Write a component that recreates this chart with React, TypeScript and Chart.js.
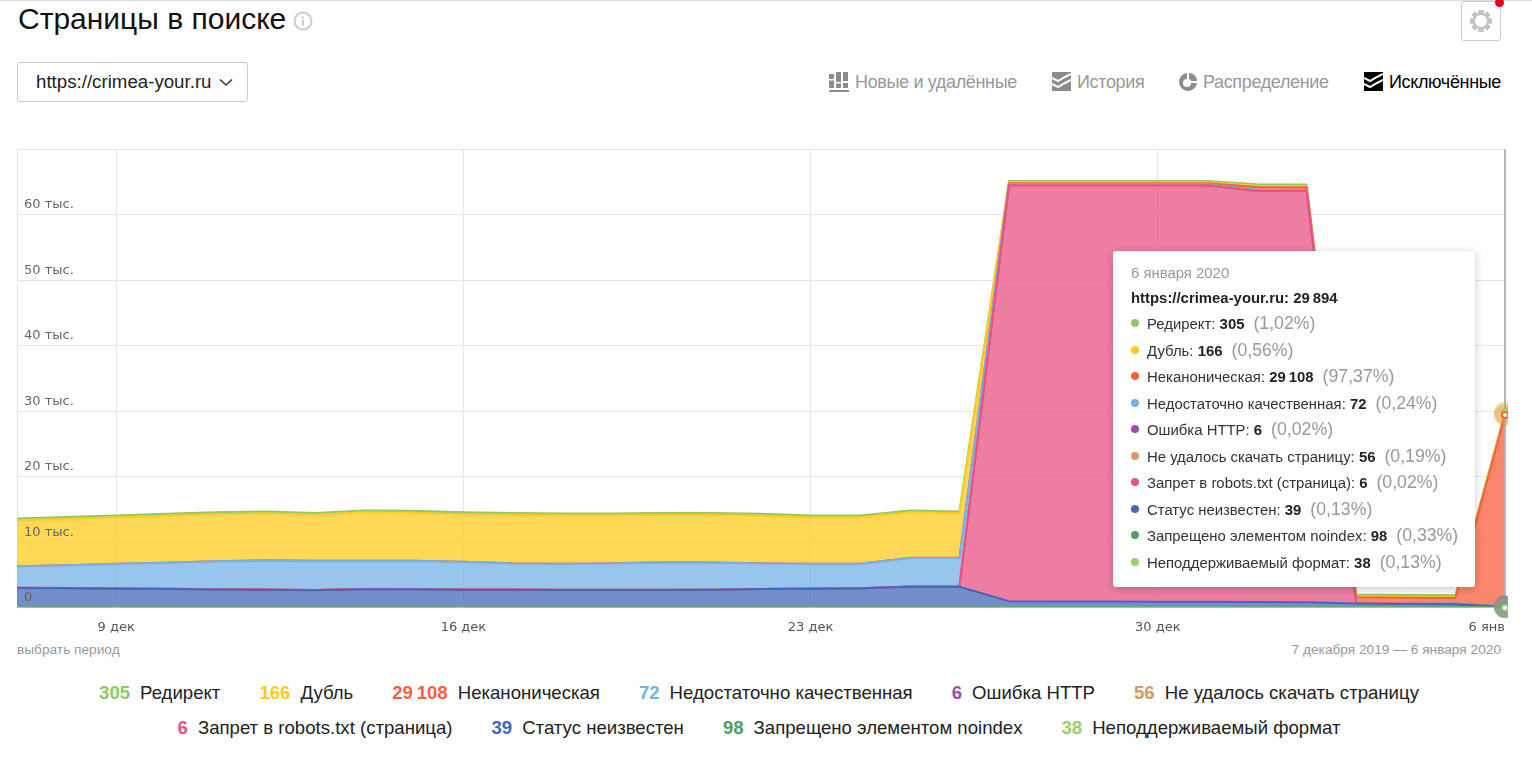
import React, { useEffect, useRef } from "react";
import { Chart, registerables } from "chart.js";

Chart.register(...registerables);

const days = [
  "7 дек","8 дек","9 дек","10 дек","11 дек","12 дек","13 дек","14 дек","15 дек","16 дек","17 дек",
  "18 дек","19 дек","20 дек","21 дек","22 дек","23 дек","24 дек","25 дек","26 дек","27 дек","28 дек",
  "29 дек","30 дек","31 дек","1 янв","2 янв","3 янв","4 янв","5 янв","6 янв",
];
const shownTicks = ["9 дек", "16 дек", "23 дек", "30 дек", "6 янв"];
const yTicks = [0, 10000, 20000, 30000, 40000, 50000, 60000];
const yTickSuffix = " тыс.";

const unsupported = [40,40,40,40,40,40,40,40,40,40,40,40,40,40,40,40,40,40,40,40,40,40,40,40,40,40,40,40,40,40,38];
const noindex = [60,60,60,60,60,60,60,60,60,60,60,60,60,60,60,60,60,60,60,60,60,60,60,60,60,60,60,60,60,60,98];
const statusUnknown = [2950,2920,2860,2800,2740,2680,2620,2770,2750,2700,2680,2660,2650,2640,2670,2780,2840,2900,3150,3130,920,900,880,860,840,800,780,600,520,480,39];
const robots = [25,25,25,25,25,25,25,25,25,25,25,25,25,25,25,25,25,25,25,25,63410,63430,63450,63470,63490,62685,62700,30,25,20,6];
const downloadFailed = [5,5,5,5,5,5,5,5,5,5,5,5,5,5,5,5,5,5,5,5,60,60,60,60,60,60,60,40,40,40,56];
const httpError = [0,0,0,0,0,0,0,0,0,0,0,0,0,0,0,0,0,0,0,0,6,6,6,6,6,6,6,6,6,6,6];
const lowQuality = [3280,3460,3750,3970,4260,4440,4450,4300,4320,4220,3990,3950,4020,4180,4120,3890,3770,3710,4350,4370,130,130,130,130,130,120,120,70,70,70,72];
const nonCanonical = [15,15,15,15,15,15,15,15,15,15,15,15,15,15,15,15,15,15,15,15,140,140,140,140,140,420,410,780,790,800,29108];
const duplicate = [7010,7090,7080,7160,7160,7190,7010,7390,7320,7240,7410,7390,7330,7260,7290,7260,7080,7080,6960,6810,170,170,170,170,170,200,200,180,180,180,166];
const redirect = [280,280,280,280,280,280,280,280,280,280,280,280,280,280,280,280,280,280,280,280,180,180,180,190,200,220,220,250,250,250,305];

const names = ["Редирект","Дубль","Неканоническая","Недостаточно качественная","Ошибка HTTP","Не удалось скачать страницу","Запрет в robots.txt (страница)","Статус неизвестен","Запрещено элементом noindex","Неподдерживаемый формат"];
const colors = ["#8fc866","#ffcb1f","#f9603e","#74b2e6","#a04bb0","#d99a68","#e85285","#4667b9","#4f9f68","#98d06a"];
const shares = ["1,02","0,56","97,37","0,24","0,02","0,19","0,02","0,13","0,33","0,13"];
const series = [redirect, duplicate, nonCanonical, lowQuality, httpError, downloadFailed, robots, statusUnknown, noindex, unsupported];
const siteName = "https://crimea-your.ru";
const tooltipDate = "6 января 2020";
const periodText = "7 декабря 2019 — 6 января 2020";
const legendRows = [[0, 1, 2, 3, 4, 5], [6, 7, 8, 9]];

const fmt = (n: number) => String(n).replace(/\B(?=(\d{3})+$)/g, "\u202f");
const lastValue = (i: number) => series[i][series[i].length - 1];
const total = series.reduce((s, a) => s + a[a.length - 1], 0);

const alpha = (hex: string, a: number) => {
  const n = parseInt(hex.slice(1), 16);
  return `rgba(${n >> 16},${(n >> 8) & 255},${n & 255},${a})`;
};

const sans = '"Liberation Sans", Arial, sans-serif';
const axisFont = '"DejaVu Sans", sans-serif';

const framePlugin = {
  id: "frame",
  beforeDatasetsDraw(chart: any) {
    const { ctx, chartArea: a } = chart;
    ctx.save();
    ctx.strokeStyle = "#e6e6e6";
    ctx.lineWidth = 1;
    ctx.beginPath();
    ctx.moveTo(a.left + 0.5, a.bottom);
    ctx.lineTo(a.left + 0.5, a.top + 0.5);
    ctx.lineTo(a.right, a.top + 0.5);
    ctx.stroke();
    ctx.restore();
  },
  afterDatasetsDraw(chart: any) {
    const { ctx, chartArea: a } = chart;
    const n = chart.data.labels.length - 1;
    ctx.save();
    const x0 = chart.getDatasetMeta(0).data[n].x;
    ctx.strokeStyle = "#b4b4b4";
    ctx.lineWidth = 2;
    ctx.beginPath();
    ctx.moveTo(x0, a.top);
    ctx.lineTo(x0, a.bottom - 2);
    ctx.stroke();
    const sets = chart.data.datasets.map((d: any, i: number) => ({ d, p: chart.getDatasetMeta(i).data[n] })).reverse();
    sets.forEach(({ d, p }: any) => {
      ctx.beginPath();
      ctx.arc(p.x, p.y, 11, 0, Math.PI * 2);
      ctx.fillStyle = alpha(d.borderColor, 0.28);
      ctx.fill();
    });
    sets.forEach(({ d, p }: any) => {
      ctx.beginPath();
      ctx.arc(p.x, p.y, 3, 0, Math.PI * 2);
      ctx.fillStyle = "#fff";
      ctx.fill();
      ctx.lineWidth = 2;
      ctx.strokeStyle = d.borderColor;
      ctx.stroke();
    });
    ctx.restore();
  },
};

const abs = (left: number, top: number, extra: any = {}) => ({ position: "absolute" as const, left, top, whiteSpace: "nowrap" as const, ...extra });

function BarsIcon({ c }: { c: string }) {
  return (
    <svg width="20" height="20" viewBox="0 0 20 20">
      <rect x="0" y="2" width="5" height="14" fill={c} />
      <rect x="7" y="0" width="5" height="16" fill={c} />
      <rect x="14" y="0" width="5" height="9" fill={c} />
      <rect x="14" y="11" width="5" height="5" fill={c} />
      <rect x="0" y="7" width="5" height="1.5" fill="#fff" />
      <rect x="7" y="10" width="5" height="1.5" fill="#fff" />
      <rect x="0" y="18" width="20" height="2" fill={c} />
    </svg>
  );
}
function WaveIcon({ c }: { c: string }) {
  return (
    <svg width="19" height="19" viewBox="0 0 19 19">
      <rect width="19" height="19" fill={c} />
      <path d="M0 6 L6 9 L13 5 L19 2 M0 12 L6 15 L13 11 L19 8" stroke="#fff" strokeWidth="2" fill="none" />
    </svg>
  );
}
function PieIcon({ c }: { c: string }) {
  return (
    <svg width="18" height="18" viewBox="0 0 18 18">
      <path d="M8 0 A9 9 0 1 0 18 10 L12 10 A4 4 0 1 1 8 6 Z" fill={c} />
      <path d="M10 0 A8 8 0 0 1 18 8 L12 8 A3 3 0 0 0 10 6 Z" fill={c} />
    </svg>
  );
}
function GearIcon() {
  const teeth = [0, 45, 90, 135, 180, 225, 270, 315];
  return (
    <svg width="22" height="24" viewBox="0 0 22 24">
      <g transform="translate(0 1)">
        {teeth.map((t) => (
          <rect key={t} x="8.5" y="0" width="5" height="22" fill="#c4c4c4" transform={`rotate(${t} 11 11)`} />
        ))}
        <circle cx="11" cy="11" r="8.2" fill="#c4c4c4" />
        <circle cx="11" cy="11" r="6" fill="#fff" />
      </g>
    </svg>
  );
}

export default function App() {
  const ref = useRef<HTMLCanvasElement | null>(null);

  useEffect(() => {
    const order = [9, 8, 7, 6, 5, 4, 3, 2, 1, 0];
    const chart = new Chart(ref.current as HTMLCanvasElement, {
      type: "line",
      data: {
        labels: days,
        datasets: order.map((i, k) => ({
          label: names[i],
          data: series[i],
          borderColor: colors[i],
          backgroundColor: alpha(colors[i], 0.75),
          borderWidth: 2,
          pointRadius: 0,
          tension: 0,
          fill: k === 0 ? "origin" : "-1",
          clip: { left: 2, right: 2, top: 2, bottom: 0 },
        })),
      },
      options: {
        animation: false,
        responsive: false,
        devicePixelRatio: 1,
        events: [],
        layout: { padding: { left: 17, right: 3, top: 149, bottom: 0 } },
        plugins: { legend: { display: false }, tooltip: { enabled: false } },
        scales: {
          x: {
            type: "category",
            border: { display: false },
            afterFit: (s: any) => { s.height = 32; s.paddingLeft = 0; s.paddingRight = 0; },
            grid: {
              drawTicks: false,
              color: (c: any) => (shownTicks.includes(days[c.index]) && c.index < days.length - 1 ? "#e6e6e6" : "rgba(0,0,0,0)"),
            },
            ticks: {
              autoSkip: false,
              maxRotation: 0,
              align: "inner",
              padding: 12,
              color: "#555",
              font: { family: axisFont, size: 13 },
              callback: (_v: any, i: number) => (shownTicks.includes(days[i]) ? days[i] : ""),
            },
          },
          y: {
            stacked: true,
            min: 0,
            max: 70000,
            afterFit: (s: any) => { s.width = 0; },
            afterBuildTicks: (s: any) => { s.ticks = yTicks.map((value) => ({ value })); },
            border: { display: false },
            grid: { drawTicks: false, color: (c: any) => (c.tick && c.tick.value === 0 ? "rgba(0,0,0,0)" : "#e6e6e6") },
            ticks: {
              mirror: true,
              z: 1,
              padding: 7,
              labelOffset: -10,
              color: "#666",
              font: { family: axisFont, size: 13 },
              callback: (v: any) => (v === 0 ? "0" : `${Number(v) / 1000}${yTickSuffix}`),
            },
          },
        },
      },
      plugins: [framePlugin],
    } as any);
    return () => chart.destroy();
  }, []);

  const tabStyle = { fontFamily: sans, fontSize: 18, letterSpacing: -0.35, color: "#999" };

  return (
    <div style={{ position: "absolute", left: 0, top: 0, width: 1532, height: 770, overflow: "hidden", background: "#fff", fontFamily: sans }}>
      <div style={abs(0, 0, { width: 1532, height: 1, background: "#ddd" })} />
      <div style={abs(18, 1, { fontSize: 30, lineHeight: "36px", color: "#111" })}>Страницы в поиске</div>
      <svg style={abs(293, 11)} width="20" height="20" viewBox="0 0 20 20">
        <circle cx="10" cy="10" r="8.5" fill="none" stroke="#ccc" strokeWidth="2" />
        <rect x="9" y="9" width="2" height="6" fill="#ccc" />
        <rect x="9" y="5.5" width="2" height="2" fill="#ccc" />
      </svg>

      <div style={abs(17, 62, { width: 231, height: 40, boxSizing: "border-box", border: "1px solid #ccc", borderRadius: 3 })} />
      <div style={abs(36, 70, { fontSize: 18.7, lineHeight: "24px", color: "#222" })}>{siteName}</div>
      <svg style={abs(219, 78)} width="14" height="9" viewBox="0 0 14 9">
        <path d="M1 1.5 L7 7 L13 1.5" fill="none" stroke="#333" strokeWidth="1.6" />
      </svg>

      <div style={abs(1461, 1, { width: 40, height: 40, boxSizing: "border-box", border: "1px solid #ccc", borderRadius: 3, display: "flex", alignItems: "center", justifyContent: "center" })}>
        <GearIcon />
      </div>
      <div style={abs(1495, -2, { width: 9, height: 9, borderRadius: "50%", background: "#e8001c" })} />

      <div style={abs(829, 72)}><BarsIcon c="#8c8c8c" /></div>
      <div style={abs(855, 70, { ...tabStyle, lineHeight: "24px" })}>Новые и удалённые</div>
      <div style={abs(1052, 72)}><WaveIcon c="#8c8c8c" /></div>
      <div style={abs(1077, 70, { ...tabStyle, lineHeight: "24px" })}>История</div>
      <div style={abs(1179, 73)}><PieIcon c="#8c8c8c" /></div>
      <div style={abs(1203, 70, { ...tabStyle, lineHeight: "24px" })}>Распределение</div>
      <div style={abs(1364, 72)}><WaveIcon c="#000" /></div>
      <div style={abs(1389, 70, { ...tabStyle, lineHeight: "24px", color: "#000" })}>Исключённые</div>

      <canvas ref={ref} width={1508} height={640} style={abs(0, 0, { display: "block", width: 1508, height: 640 })} />

      <div style={abs(1113, 251, { width: 362, height: 336, background: "#fff", borderRadius: 3, boxShadow: "0 2px 10px rgba(0,0,0,0.22)" })}>
        <div style={abs(18, 13, { fontSize: 14.9, lineHeight: "18px", color: "#999" })}>{tooltipDate}</div>
        <div style={abs(18, 38, { fontSize: 14.9, lineHeight: "18px", color: "#222", fontWeight: 700 })}>{siteName}: {fmt(total)}</div>
        {names.map((n, i) => (
          <div key={n} style={abs(0, 59 + i * 26.5, { height: 26, lineHeight: "26px", fontSize: 14.9, color: "#333" })}>
            <span style={abs(18, 9, { width: 8, height: 8, borderRadius: "50%", background: colors[i] })} />
            <span style={abs(34, 0)}>
              {n}: <b style={{ color: "#222" }}>{fmt(lastValue(i))}</b>
              <span style={{ fontSize: 17.7, color: "#999", marginLeft: 9 }}>({shares[i]}%)</span>
            </span>
          </div>
        ))}
      </div>

      <div style={abs(17, 641, { fontSize: 13.7, lineHeight: "18px", color: "#999" })}>выбрать период</div>
      <div style={{ ...abs(0, 641, { fontSize: 13.7, lineHeight: "18px", color: "#999" }), left: "auto", right: 31 }}>{periodText}</div>

      {legendRows.map((row, r) => (
        <div key={r} style={abs(0, 680 + r * 35, { width: 1518, display: "flex", justifyContent: "center", gap: 39, fontSize: 18.6, lineHeight: "26px" })}>
          {row.map((i) => (
            <span key={i}>
              <b style={{ color: colors[i], fontWeight: 700, marginRight: 10 }}>{fmt(lastValue(i))}</b>
              <span style={{ color: "#222" }}>{names[i]}</span>
            </span>
          ))}
        </div>
      ))}
    </div>
  );
}
